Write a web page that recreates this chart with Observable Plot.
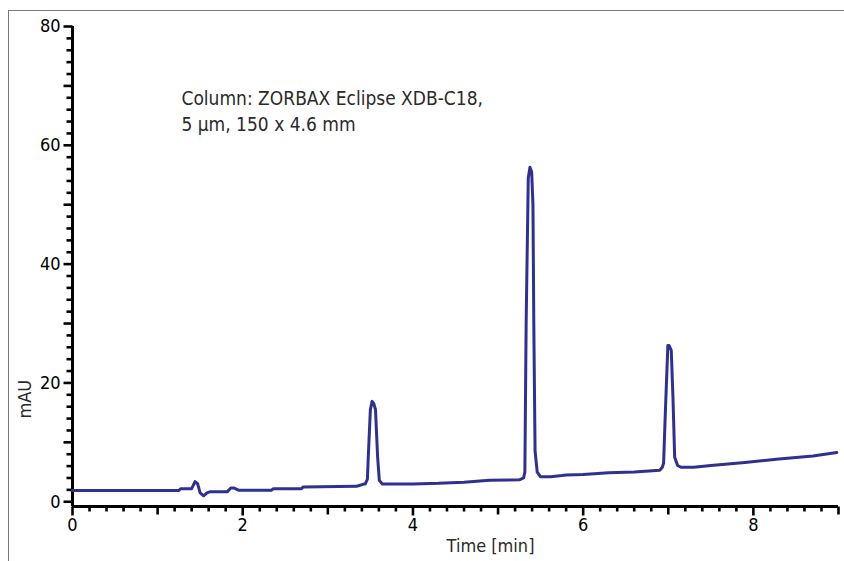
<!DOCTYPE html>
<html>
<head>
<meta charset="utf-8">
<script src="https://cdn.jsdelivr.net/npm/d3@7"></script>
<script src="https://cdn.jsdelivr.net/npm/@observablehq/plot@0.6"></script>
<style>
  html, body { margin: 0; padding: 0; background: white; }
  #wrap { position: relative; width: 844px; height: 561px; overflow: hidden; }
  #frame { position: absolute; left: 8px; top: 10px; right: -2px; bottom: -2px;
           border-top: 1px solid #777; border-left: 1px solid #777; pointer-events: none; }
</style>
</head>
<body>
<div id="wrap"><div id="frame"></div></div>
<script>
// Chromatogram trace: retention time (min) and absorbance (mAU)
const time = [0, 1.25, 1.27, 1.40, 1.44, 1.47, 1.50, 1.54, 1.58, 1.62, 1.82, 1.86, 1.90, 1.95, 2.34, 2.36, 2.69, 2.71,
  3.34, 3.36, 3.43, 3.44, 3.465, 3.475, 3.50, 3.52, 3.54, 3.56, 3.585, 3.605, 3.64, 3.70, 4.0, 4.3, 4.6, 4.9, 5.25, 5.30,
  5.315, 5.33, 5.355, 5.375, 5.395, 5.41, 5.42, 5.435, 5.46, 5.50, 5.62, 5.75, 5.80, 6.0, 6.3, 6.6, 6.9, 6.93, 6.945,
  6.965, 6.995, 7.01, 7.035, 7.055, 7.075, 7.11, 7.15, 7.3, 7.5, 7.9, 8.3, 8.7, 8.98];
const mAU = [1.9, 1.9, 2.2, 2.2, 3.4, 3.0, 1.5, 1.0, 1.5, 1.7, 1.7, 2.3, 2.3, 1.95, 1.95, 2.2, 2.2, 2.5,
  2.6, 2.7, 3.0, 3.0, 3.8, 7.5, 15.5, 16.9, 16.5, 15.5, 7.5, 3.6, 3.0, 3.0, 3.0, 3.1, 3.3, 3.6, 3.7, 4.0,
  5.0, 30, 54.5, 56.3, 55.5, 50, 30, 8.5, 5.0, 4.2, 4.2, 4.4, 4.5, 4.6, 4.9, 5.0, 5.3, 5.8, 6.5,
  14.8, 26.3, 26.3, 25.5, 17.6, 7.5, 6.1, 5.8, 5.8, 6.1, 6.6, 7.2, 7.7, 8.3];

const xMajorTicks = [0, 2, 4, 6, 8];
const xMidTicks = [1, 3, 5, 7, 9];
const yMajorTicks = [0, 20, 40, 60, 80];
const yMidTicks = [10, 30, 50, 70];
const annotation = ["Column: ZORBAX Eclipse XDB-C18,", "5 µm, 150 x 4.6 mm"];
const xLabel = "Time [min]";
const yLabel = "mAU";

const yMin = -0.8;
const xMinorTicks = d3.range(0, 9.0001, 0.2).map(v => +v.toFixed(1)).filter(v => !Number.isInteger(v));
const yMinorTicks = d3.range(0, 80.0001, 2).filter(v => v % 10 !== 0);

const data = time.map((t, i) => ({t, v: mAU[i]}));
const font = "'Liberation Sans Narrow', 'DejaVu Sans Condensed', 'Roboto', sans-serif";
const lineColor = "#2e3192";

// straight tick shape for vector marks
const tickShape = {draw(context, l) { context.moveTo(0, 0); context.lineTo(0, -l); }};
const yTicks = (values, len) => Plot.vector(values, {x: 0, y: d => d, length: len, rotate: -90, anchor: "start",
  shape: tickShape, stroke: "black", strokeWidth: 2.6, strokeLinecap: "butt"});
const xTicks = (values, len) => Plot.vector(values, {x: d => d, y: yMin, length: len, rotate: 180, anchor: "start",
  shape: tickShape, stroke: "black", strokeWidth: 2.6, strokeLinecap: "butt"});

const chart = Plot.plot({
  width: 844,
  height: 561,
  marginLeft: 72,
  marginRight: 6,
  marginTop: 26,
  marginBottom: 55,
  x: {domain: [0, 9], axis: null},
  y: {domain: [yMin, 80], axis: null},
  length: {type: "identity"},
  style: {fontFamily: font, background: "transparent", color: "black"},
  marks: [
    yTicks(yMinorTicks, 6),
    yTicks(yMidTicks, 9),
    yTicks(yMajorTicks, 9),
    xTicks(xMinorTicks, 5),
    xTicks(xMidTicks, 8),
    xTicks(xMajorTicks, 9),
    Plot.axisY({ticks: yMajorTicks, tickSize: 9, tickPadding: 3, fontSize: 18, label: null, stroke: "none"}),
    Plot.axisX({ticks: xMajorTicks, tickSize: 9, tickPadding: 3, fontSize: 18, label: null, stroke: "none"}),
    Plot.ruleX([0], {y1: yMin, y2: 80, stroke: "black", strokeWidth: 3}),
    Plot.ruleY([yMin], {x1: 0, x2: 9, stroke: "black", strokeWidth: 3}),
    Plot.line(data, {x: "t", y: "v", stroke: lineColor, strokeWidth: 3, strokeLinejoin: "round", strokeLinecap: "round"}),
    Plot.text([annotation.join("\n")], {x: 1.28, y: 66, text: d => d, textAnchor: "start", lineAnchor: "middle",
      lineHeight: 1.4, fontSize: 19, fill: "#2a2a2a"}),
    Plot.text([xLabel], {frameAnchor: "bottom", dx: 35, dy: 45, fontSize: 18, fill: "#2a2a2a"}),
    Plot.text([yLabel], {frameAnchor: "left", dx: -47, dy: 152, rotate: -90, fontSize: 18, fill: "#2a2a2a"})
  ]
});
document.getElementById("wrap").prepend(chart);
</script>
</body>
</html>
